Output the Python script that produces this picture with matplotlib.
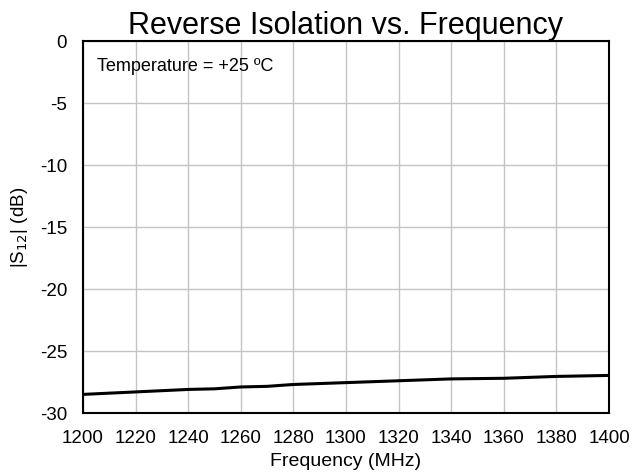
import matplotlib
matplotlib.use("Agg")
import matplotlib.pyplot as plt

plt.rcParams['font.family'] = ['Liberation Sans', 'DejaVu Sans']
plt.rcParams['axes.unicode_minus'] = False

freq = [1200, 1220, 1240, 1250, 1260, 1270, 1280, 1300, 1320, 1340, 1360, 1380, 1400]
s12 = [-28.5, -28.3, -28.1, -28.05, -27.9, -27.85, -27.7, -27.55, -27.4, -27.25, -27.2, -27.05, -26.97]
xticks = list(range(1200, 1401, 20))
yticks = list(range(-30, 1, 5))

fig = plt.figure(figsize=(6.32, 4.75), dpi=100)
L, R, T, B = 83, 609, 41, 413
ax = fig.add_axes([L/632, 1 - B/475, (R-L)/632, (B-T)/475])
ax.plot(freq, s12, color='black', lw=2.2)
ax.set_xlim(1200, 1400)
ax.set_ylim(-30, 0)
ax.set_xticks(xticks)
ax.set_yticks(yticks)
ax.grid(True, color='#c4c4c4', lw=1)
ax.tick_params(length=0, labelsize=13.5)
ax.tick_params(axis='y', pad=11.5)
ax.tick_params(axis='x', pad=12.5)
for s in ax.spines.values():
    s.set_linewidth(1.5)
    s.set_color('black')
ax.set_xlabel('Frequency (MHz)', fontsize=14, labelpad=4)
ax.set_ylabel('|S$_{12}$| (dB)', fontsize=13.5, labelpad=7)
ax.set_title('Reverse Isolation vs. Frequency', fontsize=22, pad=1)
ax.text(0.027, 0.955, 'Temperature = +25 ºC', transform=ax.transAxes, fontsize=13, va='top', ha='left')
fig.savefig('out.png', dpi=100)
